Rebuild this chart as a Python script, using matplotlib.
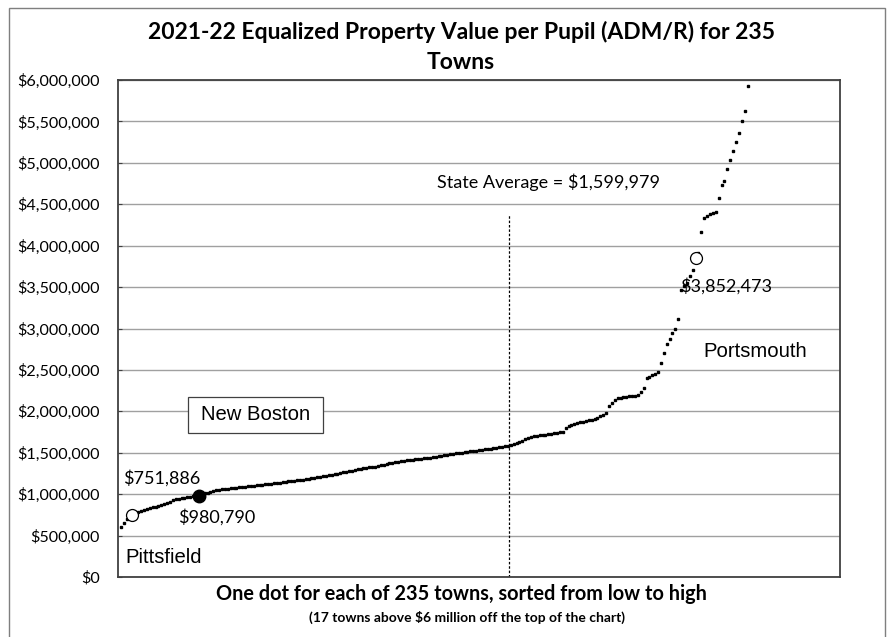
import matplotlib
matplotlib.use("Agg")
import matplotlib.pyplot as plt
from matplotlib.patches import Rectangle
from matplotlib.ticker import FuncFormatter

# equalized property value per pupil, millions of $, sorted low to high (235 towns)
values_m = [
    0.600, 0.655, 0.700, 0.730, 0.751886, 0.765, 0.780, 0.795, 0.810, 0.822,
    0.832, 0.842, 0.851, 0.860, 0.870, 0.880, 0.895, 0.910, 0.925, 0.938,
    0.945, 0.952, 0.958, 0.963, 0.968, 0.972, 0.976, 0.980790, 0.995, 1.010,
    1.020, 1.030, 1.038, 1.045, 1.052, 1.057, 1.062, 1.066, 1.070, 1.074,
    1.078, 1.082, 1.086, 1.090, 1.094, 1.098, 1.102, 1.106, 1.110, 1.114,
    1.118, 1.122, 1.126, 1.130, 1.134, 1.140, 1.146, 1.151, 1.156, 1.160,
    1.164, 1.168, 1.172, 1.177, 1.182, 1.188, 1.194, 1.200, 1.206, 1.212,
    1.218, 1.224, 1.230, 1.236, 1.242, 1.248, 1.255, 1.262, 1.270, 1.278,
    1.285, 1.292, 1.298, 1.304, 1.310, 1.316, 1.322, 1.328, 1.334, 1.340,
    1.348, 1.356, 1.365, 1.372, 1.380, 1.386, 1.392, 1.398, 1.403, 1.408,
    1.412, 1.416, 1.420, 1.424, 1.428, 1.432, 1.436, 1.440, 1.444, 1.450,
    1.456, 1.462, 1.468, 1.474, 1.480, 1.486, 1.492, 1.498, 1.503, 1.508,
    1.512, 1.516, 1.520, 1.525, 1.530, 1.535, 1.540, 1.545, 1.550, 1.555,
    1.560, 1.566, 1.572, 1.578, 1.585, 1.595, 1.605, 1.615, 1.625, 1.640,
    1.660, 1.680, 1.690, 1.700, 1.705, 1.710, 1.715, 1.720, 1.725, 1.730,
    1.735, 1.740, 1.745, 1.750, 1.800, 1.820, 1.835, 1.850, 1.860, 1.870,
    1.875, 1.880, 1.890, 1.900, 1.910, 1.925, 1.940, 1.960, 1.985, 2.060,
    2.100, 2.140, 2.160, 2.165, 2.170, 2.175, 2.180, 2.185, 2.190, 2.200,
    2.230, 2.280, 2.400, 2.420, 2.440, 2.455, 2.470, 2.580, 2.700, 2.810,
    2.870, 2.940, 3.000, 3.110, 3.470, 3.510, 3.550, 3.630, 3.710, 3.852473,
    3.910, 4.170, 4.340, 4.360, 4.380, 4.400, 4.410, 4.570, 4.730, 4.780,
    4.930, 5.040, 5.140, 5.250, 5.360, 5.500, 5.630, 5.930,
    # 17 towns above $6 million (off the chart)
    6.1, 6.4, 6.8, 7.1, 7.5, 8.0, 8.6, 9.2, 10.0, 11.0,
    12.3, 13.8, 15.5, 18.0, 21.0, 26.0, 35.0,
]
values = [v * 1e6 for v in values_m]
ranks = list(range(1, len(values) + 1))

state_avg = 1599979
state_avg_rank = 135.4
pittsfield_rank = 5
new_boston_rank = 28
portsmouth_rank = 200

fig = plt.figure(figsize=(8.89, 6.37), dpi=100)
ax = fig.add_axes([118/889, 60/637, 722/889, 497/637])

# outer chart border
fig.patches.append(Rectangle((9/889, -0.01), 876/889, 1.0 - 8/637 + 0.01,
                             transform=fig.transFigure, fill=False,
                             edgecolor='#7f7f7f', linewidth=1.0))

ax.grid(axis='y', color='#a0a0a0', linewidth=1.0)
ax.set_axisbelow(True)
ax.plot(ranks, values, linestyle='none', marker='s', markersize=2.1,
        color='black', clip_on=True)

ax.axvline(state_avg_rank, ymin=0, ymax=0.728, color='black',
           linestyle=(0, (2, 1.5)), linewidth=0.9)

def val(r):
    return values[r - 1]

ax.plot(pittsfield_rank, val(pittsfield_rank), marker='o', markersize=8.6,
        markerfacecolor='white', markeredgecolor='black', markeredgewidth=0.9)
ax.plot(new_boston_rank, val(new_boston_rank), marker='o', markersize=9,
        color='black')
ax.plot(portsmouth_rank, val(portsmouth_rank), marker='o', markersize=8.6,
        markerfacecolor='white', markeredgecolor='black', markeredgewidth=0.9)

lab = 'Lato'
ax.text(1.7, 1196000, '$751,886', fontsize=13, family=lab, va='center')
ax.text(20.8, 725000, '$980,790', fontsize=13, family=lab, va='center')
ax.text(194.6, 3510000, '$3,852,473', fontsize=13, family=lab, va='center')
ax.text(110.5, 4770000, 'State Average = $1,599,979', fontsize=13,
        family=lab, va='center')

arial = 'Liberation Sans'
ax.add_patch(Rectangle((70/722, 144/497), 135/722, 36/497,
                       transform=ax.transAxes, fc='white', ec='#404040',
                       lw=0.9, zorder=3))
ax.text(137.5/722, 162/497, 'New Boston', fontsize=14.6,
        family=arial, va='center', ha='center', transform=ax.transAxes,
        zorder=4)
ax.text(202.6, 2720000, 'Portsmouth', fontsize=14.6, family=arial,
        va='center')
ax.text(2.4, 230000, 'Pittsfield', fontsize=14.6, family=arial, va='center')

ax.set_xlim(0, 250)
ax.set_ylim(0, 6000000)
ax.set_yticks(range(0, 6000001, 500000))
ax.yaxis.set_major_formatter(FuncFormatter(lambda v, p: '${:,.0f}'.format(v)))
ax.set_xticks([])
ax.tick_params(axis='y', direction='in', length=3, color='#404040',
               labelsize=11.6, pad=13)
for t in ax.get_yticklabels():
    t.set_family(lab)
for s in ax.spines.values():
    s.set_color('#404040')
    s.set_linewidth(1.3)

fig.text(461/889, 1 - 47/637,
         '2021-22 Equalized Property Value per Pupil (ADM/R) for 235\nTowns',
         ha='center', va='center', fontsize=16.5, fontweight='bold',
         family=lab, linespacing=1.55)
fig.text(461/889, 1 - 594/637,
         'One dot for each of 235 towns, sorted from low to high',
         ha='center', va='center', fontsize=14.3, fontweight='bold', family=lab)
fig.text(467/889, 1 - 617/637,
         '(17 towns above $6 million off the top of the chart)',
         ha='center', va='center', fontsize=10, fontweight='bold', family=lab)

fig.savefig('out.png', dpi=100)
